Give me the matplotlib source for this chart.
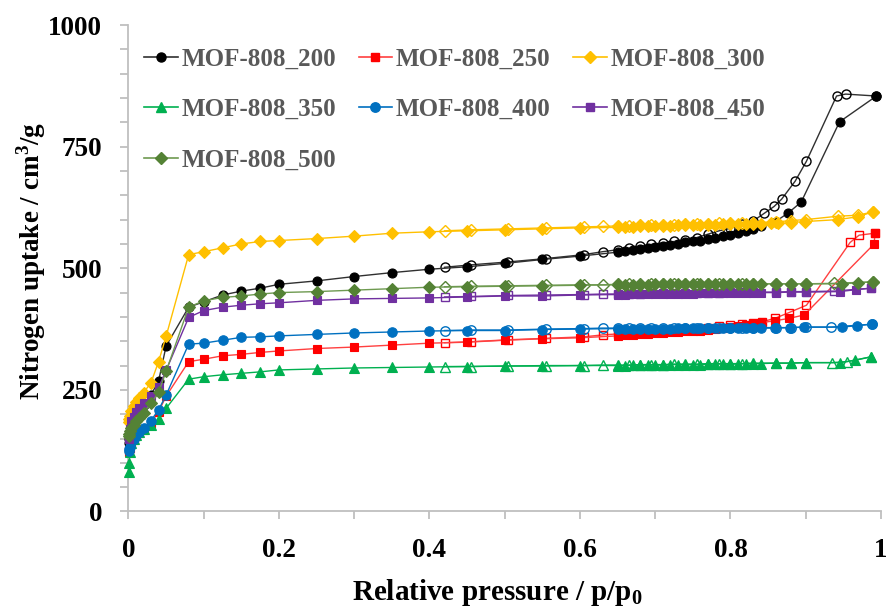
import matplotlib
matplotlib.use("Agg")
import matplotlib.pyplot as plt
from matplotlib.lines import Line2D
from matplotlib.ticker import MultipleLocator, FuncFormatter

plt.rcParams['font.family'] = ['Liberation Serif', 'DejaVu Serif']
plt.rcParams['font.weight'] = 'bold'
plt.rcParams['mathtext.fontset'] = 'custom'
plt.rcParams['mathtext.rm'] = 'Liberation Serif:bold'
plt.rcParams['mathtext.bf'] = 'Liberation Serif:bold'

# ---------------- data ----------------
# common adsorption grid (low + mid)
P_LOW = [0.0005, 0.001, 0.002, 0.004, 0.007, 0.01, 0.014, 0.02, 0.03, 0.04, 0.05, 0.08]
P_MID = [0.10, 0.125, 0.15, 0.175, 0.20, 0.25, 0.30, 0.35, 0.40, 0.45, 0.50, 0.55, 0.60,
         0.65, 0.66, 0.67, 0.68, 0.69, 0.70, 0.71, 0.72, 0.73, 0.74, 0.75, 0.76, 0.77,
         0.78, 0.79, 0.80, 0.81, 0.82, 0.83, 0.84]
# common desorption grid (below the hysteresis head)
P_DES = [0.83, 0.815, 0.80, 0.785, 0.77, 0.755, 0.74, 0.725, 0.71, 0.695, 0.68, 0.665,
         0.65, 0.63, 0.605, 0.555, 0.505, 0.455, 0.42]

LABELS = ["MOF-808_200", "MOF-808_250", "MOF-808_300", "MOF-808_350",
          "MOF-808_400", "MOF-808_450", "MOF-808_500"]

# MOF-808_200
V200_LOW = [140, 148, 155, 168, 180, 192, 205, 218, 240, 268, 340, 420]
V200_MID = [431, 445, 453, 459, 467, 474, 483, 491, 498, 503, 510, 518, 525,
            533, 535, 537, 539, 542, 544, 546, 548, 550, 553, 555, 557, 560,
            562, 566, 569, 573, 577, 581, 586]
P200_TAIL = [0.86, 0.877, 0.894, 0.945, 0.994]
V200_TAIL = [596, 614, 636, 801, 854]
P200_DHEAD = [0.994, 0.953, 0.941, 0.901, 0.886, 0.868, 0.858, 0.845]
V200_DHEAD = [854, 858, 854, 720, 679, 642, 627, 613]
V200_DES = [597, 590, 582, 577, 570, 563, 559, 555, 552, 549, 545, 541,
            538, 534, 528, 520, 513, 507, 502]

# MOF-808_250
V250_LOW = [122, 126, 130, 138, 147, 155, 162, 168, 182, 205, 237, 308]
V250_MID = [313, 320, 323, 327, 330, 335, 338, 342, 346, 348, 352, 355, 357,
            361, 362, 363, 364, 365, 366, 367, 368, 369, 370, 371, 372, 374,
            376, 378, 380, 382, 384, 386, 388]
P250_TAIL = [0.859, 0.878, 0.898, 0.991, 0.992]
V250_TAIL = [392, 397, 404, 550, 572]
P250_DHEAD = [0.992, 0.971, 0.959, 0.901, 0.878, 0.859, 0.842]
V250_DHEAD = [572, 568, 553, 424, 409, 397, 390]
V250_DES = [388, 386, 384, 381, 378, 376, 374, 372, 371, 370, 368, 366,
            365, 363, 359, 356, 353, 349, 347]

# MOF-808_300
V300_LOW = [183, 190, 197, 207, 217, 226, 234, 244, 265, 308, 360, 528]
V300_MID = [534, 542, 550, 555, 557, 561, 566, 572, 575, 577, 579, 581, 583,
            584, 585, 585, 586, 586, 587, 587, 587, 588, 588, 588, 589, 589,
            589, 590, 590, 590, 591, 591, 591]
P300_TAIL = [0.854, 0.863, 0.881, 0.899, 0.943, 0.970, 0.989]
V300_TAIL = [592, 592, 594, 596, 600, 606, 616]
P300_DHEAD = [0.989, 0.97, 0.943, 0.90, 0.88, 0.86]
V300_DHEAD = [616, 609, 607, 600, 598, 595]
V300_DES = [594, 593, 592, 592, 591, 590, 590, 589, 589, 588, 588, 587,
            587, 586, 585, 583, 581, 579, 577]

# MOF-808_350
V350_LOW = [82, 100, 123, 140, 150, 157, 164, 170, 178, 190, 212, 272]
V350_MID = [277, 281, 284, 287, 291, 293, 295, 296, 297, 298, 299, 299, 300,
            300, 300, 301, 301, 301, 301, 301, 302, 302, 302, 302, 302, 303,
            303, 303, 303, 303, 304, 304, 304]
P350_TAIL = [0.86, 0.88, 0.90, 0.945, 0.966, 0.987]
V350_TAIL = [305, 305, 306, 306, 311, 318]
P350_DHEAD = [0.987, 0.955, 0.935, 0.90, 0.88, 0.86]
V350_DHEAD = [318, 308, 306, 306, 305, 305]
V350_DES = [305, 304, 304, 304, 304, 303, 303, 303, 302, 302, 302, 301,
            301, 301, 300, 300, 299, 298, 298]

# MOF-808_400
V400_LOW = [125, 128, 133, 142, 150, 157, 163, 171, 187, 209, 239, 344]
V400_MID = [346, 352, 358, 359, 361, 364, 367, 369, 371, 372, 372, 374, 375,
            376, 376, 376, 376, 376, 376, 376, 376, 377, 377, 377, 377, 377,
            377, 377, 377, 377, 377, 377, 377]
P400_TAIL = [0.859, 0.879, 0.898, 0.948, 0.968, 0.988]
V400_TAIL = [377, 378, 379, 379, 382, 385]
P400_DHEAD = [0.988, 0.934, 0.90, 0.88, 0.86]
V400_DHEAD = [385, 379, 379, 378, 378]
V400_DES = [378, 378, 378, 378, 378, 378, 378, 377, 377, 377, 377, 377,
            377, 377, 376, 375, 373, 373, 372]

# MOF-808_450
V450_LOW = [150, 160, 170, 185, 195, 205, 213, 222, 237, 255, 290, 399]
V450_MID = [413, 420, 424, 427, 429, 434, 437, 438, 439, 441, 443, 443, 445,
            446, 446, 447, 447, 447, 447, 448, 448, 448, 448, 448, 449, 449,
            449, 449, 449, 450, 450, 450, 450]
P450_TAIL = [0.86, 0.88, 0.90, 0.945, 0.967, 0.987]
V450_TAIL = [450, 451, 451, 452, 456, 459]
P450_DHEAD = [0.987, 0.937, 0.90, 0.88, 0.86]
V450_DHEAD = [459, 453, 452, 452, 451]
V450_DES = [451, 451, 451, 450, 450, 450, 449, 449, 449, 449, 448, 448,
            447, 447, 446, 445, 444, 442, 441]

# MOF-808_500
V500_LOW = [155, 160, 165, 172, 178, 185, 193, 203, 222, 245, 288, 420]
V500_MID = [433, 440, 443, 447, 450, 452, 455, 458, 461, 462, 463, 464, 465,
            466, 466, 466, 466, 466, 467, 467, 467, 467, 467, 467, 467, 467,
            468, 468, 468, 468, 468, 468, 468]
P500_TAIL = [0.86, 0.88, 0.90, 0.948, 0.969, 0.989]
V500_TAIL = [468, 468, 468, 468, 470, 472]
P500_DHEAD = [0.989, 0.937, 0.90, 0.88, 0.86]
V500_DHEAD = [472, 469, 468, 468, 468]
V500_DES = [468, 468, 468, 468, 468, 468, 468, 467, 467, 467, 467, 467,
            467, 466, 466, 465, 464, 463, 462]

SERIES = [
    (V200_LOW, V200_MID, P200_TAIL, V200_TAIL, P200_DHEAD, V200_DHEAD, V200_DES),
    (V250_LOW, V250_MID, P250_TAIL, V250_TAIL, P250_DHEAD, V250_DHEAD, V250_DES),
    (V300_LOW, V300_MID, P300_TAIL, V300_TAIL, P300_DHEAD, V300_DHEAD, V300_DES),
    (V350_LOW, V350_MID, P350_TAIL, V350_TAIL, P350_DHEAD, V350_DHEAD, V350_DES),
    (V400_LOW, V400_MID, P400_TAIL, V400_TAIL, P400_DHEAD, V400_DHEAD, V400_DES),
    (V450_LOW, V450_MID, P450_TAIL, V450_TAIL, P450_DHEAD, V450_DHEAD, V450_DES),
    (V500_LOW, V500_MID, P500_TAIL, V500_TAIL, P500_DHEAD, V500_DHEAD, V500_DES),
]

# ---------------- styles ----------------
MARKER_COLORS = ['#000000', '#FF0000', '#FFC000', '#00B050', '#0070C0', '#7030A0', '#548235']
LINE_COLORS = ['#303030', '#FF4040', '#FFC000', '#00B050', '#0070C0', '#7030A0', '#6E9A50']
MARKERS = ['o', 's', 'D', '^', 'o', 's', 'D']
MSIZES = [6.5, 6.3, 6.5, 7.0, 6.8, 6.3, 6.5]

fig = plt.figure(figsize=(8.86, 6.10), dpi=100)
ax = fig.add_axes([0.145, 0.1615, 0.8493, 0.7975])

for i, (vlow, vmid, ptail, vtail, pdh, vdh, vdes) in enumerate(SERIES):
    p_ads = P_LOW + P_MID + ptail
    v_ads = vlow + vmid + vtail
    p_des = pdh + P_DES
    v_des = vdh + vdes
    ax.plot(p_des, v_des, color=LINE_COLORS[i], lw=1.0, marker=MARKERS[i],
            ms=MSIZES[i], mfc='none', mec=MARKER_COLORS[i], mew=1.0,
            clip_on=False, zorder=2 + i)
    ax.plot(p_ads, v_ads, color=LINE_COLORS[i], lw=1.0, marker=MARKERS[i],
            ms=MSIZES[i], mfc=MARKER_COLORS[i], mec=MARKER_COLORS[i], mew=0.8,
            clip_on=False, zorder=2.5 + i)

ax.set_xlim(0, 1)
ax.set_ylim(0, 1000)
for s in ['top', 'right']:
    ax.spines[s].set_visible(False)
for s in ['left', 'bottom']:
    ax.spines[s].set_color('#BFBFBF')
    ax.spines[s].set_linewidth(1.3)

ax.xaxis.set_major_locator(MultipleLocator(0.2))
ax.xaxis.set_minor_locator(MultipleLocator(0.1))
ax.yaxis.set_major_locator(MultipleLocator(250))
ax.yaxis.set_minor_locator(MultipleLocator(50))
ax.xaxis.set_major_formatter(FuncFormatter(lambda v, p: f"{v:g}"))
ax.tick_params(which='both', direction='out', length=6, width=1.3, color='#BFBFBF')
ax.tick_params(axis='both', which='major', labelsize=19.5, pad=13)

for lab in ax.get_xticklabels() + ax.get_yticklabels():
    lab.set_fontweight('bold')

ax.set_xlabel(r'Relative pressure / p/p$_\mathregular{0}$', fontsize=21, fontweight='bold')
ax.set_ylabel(r'Nitrogen uptake / cm$^\mathregular{3}$/g', fontsize=19.5, fontweight='bold')
ax.xaxis.set_label_coords(0.49, -0.135)
ax.yaxis.set_label_coords(-0.107, 0.515)

handles = [Line2D([], [], color=LINE_COLORS[i], lw=1.2, marker=MARKERS[i], ms=MSIZES[i],
                  mfc=MARKER_COLORS[i], mec=MARKER_COLORS[i]) for i in range(7)]
order = [0, 3, 6, 1, 4, 2, 5]
leg = fig.legend([handles[k] for k in order], [LABELS[k] for k in order],
                 ncol=3, loc='upper left', bbox_to_anchor=(0.1625, 0.922),
                 frameon=False, prop={'family': 'Liberation Serif', 'weight': 'bold', 'size': 18},
                 handlelength=1.35, handletextpad=0.15, columnspacing=0.9,
                 labelspacing=1.1, borderpad=0, borderaxespad=0)
for t in leg.get_texts():
    t.set_color('#595959')

fig.savefig('out.png', dpi=100)
